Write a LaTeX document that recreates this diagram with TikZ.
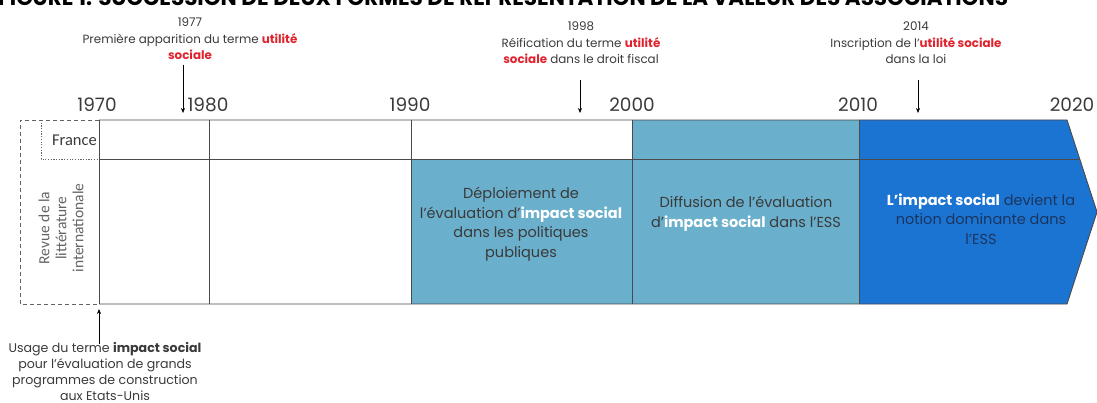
\documentclass[tikz,border=0pt]{standalone}
\usepackage{fontspec}
\setmainfont{Poppins}
\newfontfamily\carl{Carlito}
\usetikzlibrary{arrows.meta}
\definecolor{cteal}{HTML}{6AAFCB}
\definecolor{cblue}{HTML}{1C74D2}
\definecolor{cred}{HTML}{E0242F}
\definecolor{cline}{HTML}{4A4A4A}
\definecolor{ctext}{HTML}{3A3A3A}
\definecolor{cnavy}{HTML}{1A3560}
\definecolor{cgray}{HTML}{636363}
\begin{document}
\begin{tikzpicture}[x=1pt,y=-1pt,
  grid/.style={draw=cline,line width=0.9pt},
  ann/.style={font=\fontsize{11.9}{16.5}\selectfont,text=ctext,align=center,inner sep=0pt},
  cell/.style={font=\fontsize{14.5}{19.5}\selectfont,text=ctext,align=center,inner sep=0pt},
  year/.style={font=\fontsize{18.5}{20}\selectfont,text=ctext,inner sep=0pt,anchor=base},
  ptr/.style={draw=black,line width=0.6pt,-{Stealth[length=5pt,width=4pt]}}]
\useasboundingbox (0,0) rectangle (1097,403);
\clip (0,0) rectangle (1097,403);
% title (cut off at the top, as in the reference)
\node[anchor=base west,inner sep=0pt,font=\bfseries\fontsize{21.5}{22}\selectfont,text=black] (title) at (-2,6) {FIGURE 1. SUCCESSION DE DEUX FORMES DE REPRÉSENTATION DE LA VALEUR DES ASSOCIATIONS};
% fills
\fill[cteal] (411,159) rectangle (632,304);
\fill[cteal] (632,120) rectangle (859,304);
\fill[cblue] (859,120) -- (1067,120) -- (1097,212) -- (1067,304) -- (859,304) -- cycle;
% grid
\draw[grid] (99,120) -- (1067,120) -- (1097,212) -- (1067,304) -- (99,304);
\draw[grid] (99,159) -- (1080,159);
\foreach \x in {99,209,411,632,859} \draw[grid] (\x,120) -- (\x,304);
% dashed side boxes
\draw[cgray,line width=0.7pt,dash pattern=on 4pt off 3pt] (99,120) -- (20,120) -- (20,304) -- (99,304);
\draw[cgray,line width=0.7pt,dash pattern=on 1.2pt off 1.5pt] (41,120) -- (41,159) -- (99,159);
\node[font=\carl\fontsize{16.5}{18}\selectfont,text=ctext,anchor=east,inner sep=0pt] (fr) at (97,140) {France};
\node[font=\carl\fontsize{15.5}{17}\selectfont,text=cgray,align=center,rotate=90,inner sep=0pt] (intl) at (61,228) {Revue de la\\littérature\\internationale};
% years
\node[year] (y70) at (97,112) {1970};
\node[year] (y80) at (208,112) {1980};
\node[year] (y90) at (410,112) {1990};
\node[year] (y00) at (632,112) {2000};
\node[year] (y10) at (858,112) {2010};
\node[year] (y20) at (1072,112) {2020};
% top annotations
\node[ann] (a77) at (190,39) {1977\\Première apparition du terme \textcolor{cred}{\bfseries utilité}\\\textcolor{cred}{\bfseries sociale}};
\node[ann] (a98) at (581,43) {1998\\Réification du terme \textcolor{cred}{\bfseries utilité}\\\textcolor{cred}{\bfseries sociale} dans le droit fiscal};
\node[ann] (a14) at (916,43) {2014\\Inscription de l'\textcolor{cred}{\bfseries utilité sociale}\\dans la loi};
\coordinate (p77) at (183,113);
\coordinate (p98) at (580,113);
\coordinate (p14) at (918,113);
\draw[ptr] (183,65) -- (p77);
\draw[ptr] (580,80) -- (p98);
\draw[ptr] (918,80) -- (p14);
% bottom annotation
\node[ann,anchor=north,font=\fontsize{12.6}{16}\selectfont] (a70) at (105,342) {Usage du terme \textbf{impact social}\\pour l'évaluation de grands\\programmes de construction\\aux Etats-Unis};
\coordinate (p70) at (99,309);
\draw[ptr] (a70.north -| p70) ++(0,2) -- (p70);
% cell texts
\node[cell] (c90) at (521,224) {Déploiement de\\l'évaluation d'\textcolor{white}{\bfseries impact social}\\dans les politiques\\publiques};
\node[cell] (c00) at (746,214) {Diffusion de l'évaluation\\d'\textcolor{white}{\bfseries impact social} dans l'ESS};
\node[cell,text=cnavy] (c10) at (981,219) {\textcolor{white}{\bfseries L'impact social} devient la\\notion dominante dans\\l'ESS};
\end{tikzpicture}
\end{document}
